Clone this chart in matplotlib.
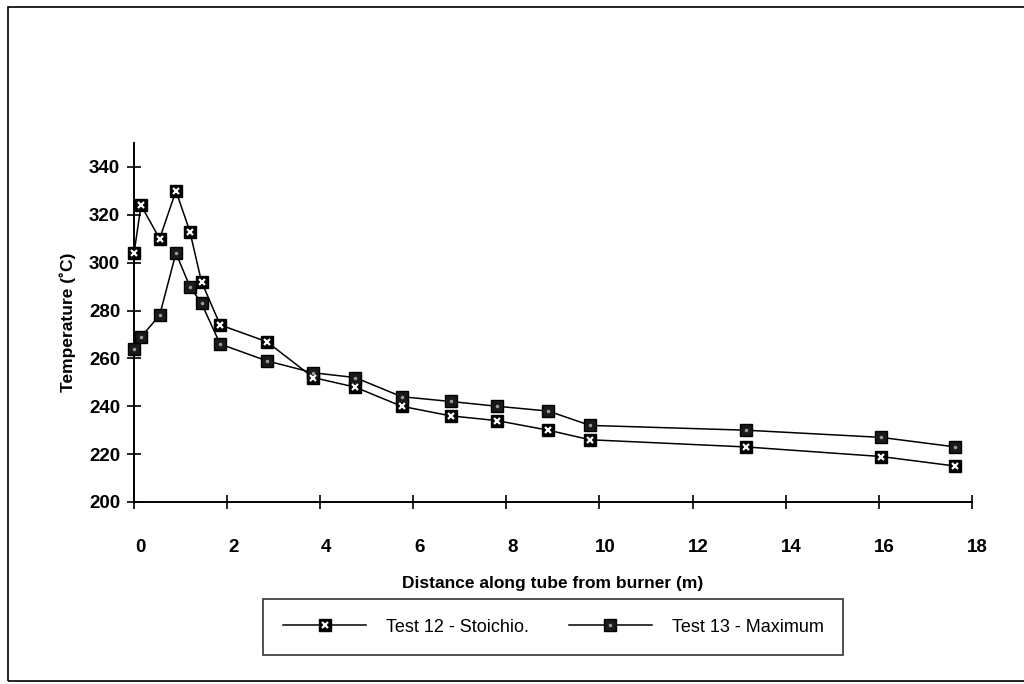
import matplotlib
matplotlib.use("Agg")
import matplotlib.pyplot as plt
from matplotlib.patches import Rectangle
from matplotlib.legend_handler import HandlerTuple
import matplotlib.transforms as mtransforms

# distance along tube (m)
dist = [0.0, 0.15, 0.55, 0.9, 1.2, 1.45, 1.85, 2.85, 3.85, 4.75, 5.75, 6.8, 7.8, 8.9, 9.8, 13.15, 16.05, 17.65]

# temperatures (deg C)
test12 = [304, 324, 310, 330, 313, 292, 274, 267, 252, 248, 240, 236, 234, 230, 226, 223, 219, 215]
test13 = [264, 269, 278, 304, 290, 283, 266, 259, 254, 252, 244, 242, 240, 238, 232, 230, 227, 223]

labels = ["Test 12 - Stoichio.", "Test 13 - Maximum"]
xticks = [0, 2, 4, 6, 8, 10, 12, 14, 16, 18]
yticks = [200, 220, 240, 260, 280, 300, 320, 340]

plt.rcParams['font.family'] = ['Liberation Sans', 'DejaVu Sans']

fig = plt.figure(figsize=(10.24, 6.84), dpi=100)
ax = fig.add_axes([0.1309, 0.2661, 0.949 - 0.1309, 0.7909 - 0.2661])

# test 12: black square with white cross
l12, = ax.plot(dist, test12, color='black', lw=1.1, marker='s', ms=8,
               mfc='black', mec='black', zorder=3, clip_on=False)
x12, = ax.plot(dist, test12, ls='none', marker='x', ms=5, mew=1.6,
               color='white', zorder=4, clip_on=False)
# test 13: dark square, few specks
l13, = ax.plot(dist, test13, color='black', lw=1.1, marker='s', ms=8,
               mfc='#1a1a1a', mec='black', zorder=3, clip_on=False)
x13, = ax.plot(dist, test13, ls='none', marker='.', ms=3,
               color='#9a9a9a', zorder=4, clip_on=False)

ax.set_xlim(0, 18)
ax.set_ylim(200, 350)
ax.set_xticks(xticks)
ax.set_yticks(yticks)
ax.spines['top'].set_visible(False)
ax.spines['right'].set_visible(False)
ax.spines['left'].set_linewidth(1.4)
ax.spines['bottom'].set_linewidth(1.4)
ax.tick_params(axis='both', direction='inout', length=10, width=1.2,
               labelsize=13.5)
ax.tick_params(axis='x', pad=22)
ax.tick_params(axis='y', pad=5)
for lab in ax.get_xticklabels() + ax.get_yticklabels():
    lab.set_fontweight('bold')
# x labels sit a little right of their ticks in the original
off = mtransforms.ScaledTranslation(0.06, 0, fig.dpi_scale_trans)
for lab in ax.get_xticklabels():
    lab.set_transform(lab.get_transform() + off)

ax.set_xlabel("Distance along tube from burner (m)", fontsize=12.5,
              fontweight='bold', labelpad=14)
ax.set_ylabel("Temperature (\u02daC)", fontsize=12.5, fontweight='bold',
              labelpad=9)

leg = fig.legend([(l12, x12), (l13, x13)], labels,
                 handler_map={tuple: HandlerTuple(ndivide=1)},
                 loc='center', bbox_to_anchor=(0.5405, 0.0833), ncol=2,
                 fontsize=13, frameon=True, fancybox=False,
                 edgecolor='black', handlelength=4.6, handletextpad=1.1,
                 columnspacing=2.2, borderpad=1.1)
leg.get_frame().set_linewidth(1.2)

# outer frame around the whole chart
fig.patches.append(Rectangle((0.008, 0.005), 1.2, 0.985, fill=False,
                             edgecolor='black', lw=1.2,
                             transform=fig.transFigure, clip_on=False))

fig.savefig("out.png", dpi=100)
